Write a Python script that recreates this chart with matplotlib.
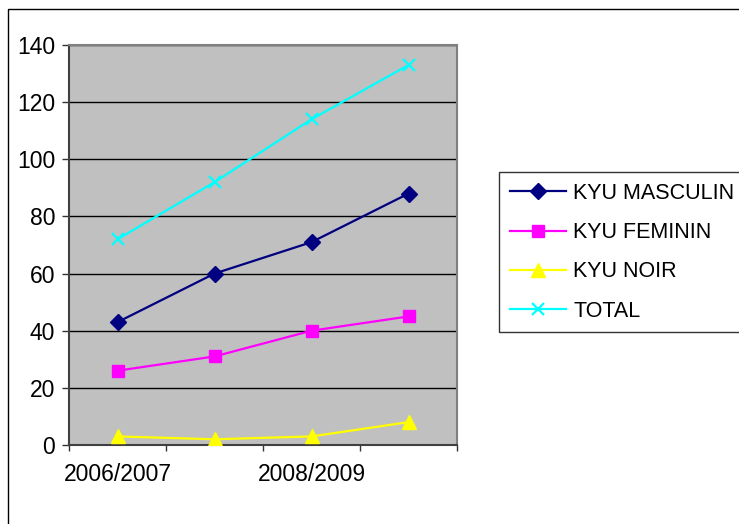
import matplotlib
matplotlib.use("Agg")
from matplotlib import pyplot as plt
from matplotlib.patches import Rectangle
import numpy as np

plt.rcParams['font.family'] = ['Liberation Sans', 'DejaVu Sans']

# data
seasons = ['2006/2007', '2007/2008', '2008/2009', '2009/2010']
kyu_masculin = [43, 60, 71, 88]
kyu_feminin = [26, 31, 40, 45]
kyu_noir = [3, 2, 3, 8]
total = [72, 92, 114, 133]

W, H = 739, 524
fig = plt.figure(figsize=(W / 100, H / 100), dpi=100)
ax = fig.add_axes([69 / W, 1 - 445 / H, (457 - 69) / W, (445 - 45) / H])
ax.set_facecolor('#C0C0C0')

x = np.arange(len(seasons))
ax.plot(x, kyu_masculin, color='#000080', marker='D', ms=8.5, lw=1.6, label='KYU MASCULIN', zorder=3)
ax.plot(x, kyu_feminin, color='#FF00FF', marker='s', ms=8.5, lw=1.6, label='KYU FEMININ', zorder=3)
ax.plot(x, kyu_noir, color='#FFFF00', marker='^', ms=10, lw=1.6, label='KYU NOIR', zorder=3)
ax.plot(x, total, color='#00FFFF', marker='x', ms=9, mew=1.6, lw=1.6, label='TOTAL', zorder=3)

ax.set_xlim(-0.5, len(seasons) - 0.5)
ax.set_ylim(0, 140)
ax.set_yticks(np.arange(0, 141, 20))
ax.yaxis.grid(True, color='black', lw=1)
ax.set_axisbelow(True)

# category boundaries as ticks, labels only on every other category
ax.set_xticks(np.arange(-0.5, len(seasons), 1))
ax.set_xticklabels([])
ax.set_xticks(x[::2], minor=True)
ax.set_xticklabels(seasons[::2], minor=True)
ax.tick_params(axis='x', which='major', direction='out', length=4.5, width=1, color='#333333')
ax.tick_params(axis='x', which='minor', length=0, pad=13, labelsize=16.5)
ax.tick_params(axis='y', direction='out', length=5, width=1, color='#333333', pad=5, labelsize=16.5)

for side in ['top', 'right']:
    ax.spines[side].set_color('#808080')
    ax.spines[side].set_linewidth(1.5)
ax.spines['left'].set_color('#404040')
ax.spines['left'].set_linewidth(1.5)
ax.spines['bottom'].set_color('#404040')
ax.spines['bottom'].set_linewidth(1.5)

leg = fig.legend(loc='upper left', bbox_to_anchor=(499 / W, 1 - 172 / H),
                 fontsize=15.5, frameon=True, fancybox=False, edgecolor='black',
                 handlelength=2.6, handletextpad=0.35, labelspacing=0.85,
                 borderpad=0.5, borderaxespad=0)
leg.get_frame().set_linewidth(1)

# outer chart border (right and bottom edges fall outside the picture)
fig.add_artist(Rectangle((7.5 / W, -0.1), 1.2, 1.1 - 9 / H, transform=fig.transFigure,
                         fill=False, ec='black', lw=1))

fig.savefig('out.png', dpi=100)
